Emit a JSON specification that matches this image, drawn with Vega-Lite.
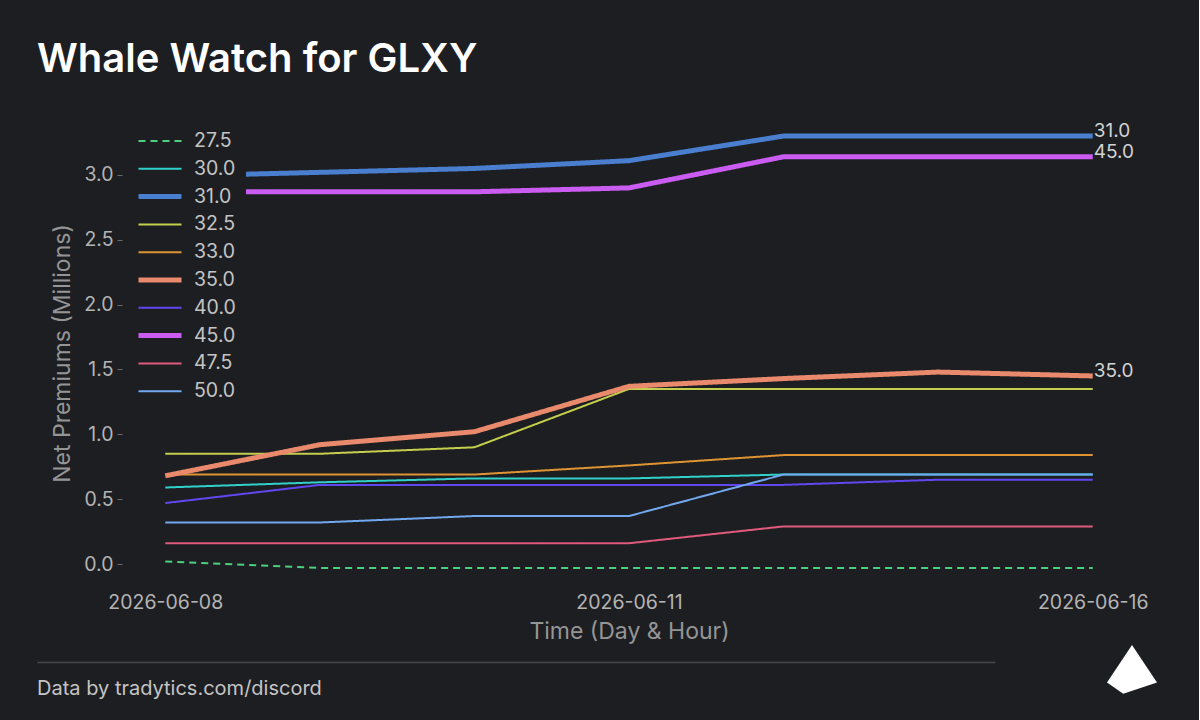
{
  "$schema": "https://vega.github.io/schema/vega-lite/v6.json",
  "background": "#1d1e22",
  "padding": {"left": 37, "top": 40, "right": 42, "bottom": 4},
  "title": {
    "text": "Whale Watch for GLXY",
    "anchor": "start",
    "font": "Inter",
    "fontSize": 40,
    "fontWeight": 600,
    "color": "#ffffff",
    "offset": 38
  },
  "config": {
    "view": {"stroke": null},
    "font": "Inter",
    "text": {"font": "Inter"}
  },
  "spacing": 0,
  "vconcat": [
    {
      "width": 1014,
      "height": 470,
      "data": {
        "values": [
          {"t": "2026-06-08", "strike": "27.5", "v": 0.02},
          {"t": "2026-06-09", "strike": "27.5", "v": -0.03},
          {"t": "2026-06-10", "strike": "27.5", "v": -0.03},
          {"t": "2026-06-11", "strike": "27.5", "v": -0.03},
          {"t": "2026-06-12", "strike": "27.5", "v": -0.03},
          {"t": "2026-06-15", "strike": "27.5", "v": -0.03},
          {"t": "2026-06-16", "strike": "27.5", "v": -0.03},
          {"t": "2026-06-08", "strike": "30.0", "v": 0.59},
          {"t": "2026-06-09", "strike": "30.0", "v": 0.63},
          {"t": "2026-06-10", "strike": "30.0", "v": 0.66},
          {"t": "2026-06-11", "strike": "30.0", "v": 0.66},
          {"t": "2026-06-12", "strike": "30.0", "v": 0.69},
          {"t": "2026-06-15", "strike": "30.0", "v": 0.69},
          {"t": "2026-06-16", "strike": "30.0", "v": 0.69},
          {"t": "2026-06-08", "strike": "31.0", "v": 2.99},
          {"t": "2026-06-09", "strike": "31.0", "v": 3.02},
          {"t": "2026-06-10", "strike": "31.0", "v": 3.05},
          {"t": "2026-06-11", "strike": "31.0", "v": 3.11},
          {"t": "2026-06-12", "strike": "31.0", "v": 3.3},
          {"t": "2026-06-15", "strike": "31.0", "v": 3.3},
          {"t": "2026-06-16", "strike": "31.0", "v": 3.3},
          {"t": "2026-06-08", "strike": "32.5", "v": 0.85},
          {"t": "2026-06-09", "strike": "32.5", "v": 0.85},
          {"t": "2026-06-10", "strike": "32.5", "v": 0.9},
          {"t": "2026-06-11", "strike": "32.5", "v": 1.35},
          {"t": "2026-06-12", "strike": "32.5", "v": 1.35},
          {"t": "2026-06-15", "strike": "32.5", "v": 1.35},
          {"t": "2026-06-16", "strike": "32.5", "v": 1.35},
          {"t": "2026-06-08", "strike": "33.0", "v": 0.69},
          {"t": "2026-06-09", "strike": "33.0", "v": 0.69},
          {"t": "2026-06-10", "strike": "33.0", "v": 0.69},
          {"t": "2026-06-11", "strike": "33.0", "v": 0.76},
          {"t": "2026-06-12", "strike": "33.0", "v": 0.84},
          {"t": "2026-06-15", "strike": "33.0", "v": 0.84},
          {"t": "2026-06-16", "strike": "33.0", "v": 0.84},
          {"t": "2026-06-08", "strike": "35.0", "v": 0.68},
          {"t": "2026-06-09", "strike": "35.0", "v": 0.92},
          {"t": "2026-06-10", "strike": "35.0", "v": 1.02},
          {"t": "2026-06-11", "strike": "35.0", "v": 1.37},
          {"t": "2026-06-12", "strike": "35.0", "v": 1.43},
          {"t": "2026-06-15", "strike": "35.0", "v": 1.48},
          {"t": "2026-06-16", "strike": "35.0", "v": 1.45},
          {"t": "2026-06-08", "strike": "40.0", "v": 0.47},
          {"t": "2026-06-09", "strike": "40.0", "v": 0.61},
          {"t": "2026-06-10", "strike": "40.0", "v": 0.61},
          {"t": "2026-06-11", "strike": "40.0", "v": 0.61},
          {"t": "2026-06-12", "strike": "40.0", "v": 0.61},
          {"t": "2026-06-15", "strike": "40.0", "v": 0.65},
          {"t": "2026-06-16", "strike": "40.0", "v": 0.65},
          {"t": "2026-06-08", "strike": "45.0", "v": 2.87},
          {"t": "2026-06-09", "strike": "45.0", "v": 2.87},
          {"t": "2026-06-10", "strike": "45.0", "v": 2.87},
          {"t": "2026-06-11", "strike": "45.0", "v": 2.9},
          {"t": "2026-06-12", "strike": "45.0", "v": 3.14},
          {"t": "2026-06-15", "strike": "45.0", "v": 3.14},
          {"t": "2026-06-16", "strike": "45.0", "v": 3.14},
          {"t": "2026-06-08", "strike": "47.5", "v": 0.16},
          {"t": "2026-06-09", "strike": "47.5", "v": 0.16},
          {"t": "2026-06-10", "strike": "47.5", "v": 0.16},
          {"t": "2026-06-11", "strike": "47.5", "v": 0.16},
          {"t": "2026-06-12", "strike": "47.5", "v": 0.29},
          {"t": "2026-06-15", "strike": "47.5", "v": 0.29},
          {"t": "2026-06-16", "strike": "47.5", "v": 0.29},
          {"t": "2026-06-08", "strike": "50.0", "v": 0.32},
          {"t": "2026-06-09", "strike": "50.0", "v": 0.32},
          {"t": "2026-06-10", "strike": "50.0", "v": 0.37},
          {"t": "2026-06-11", "strike": "50.0", "v": 0.37},
          {"t": "2026-06-12", "strike": "50.0", "v": 0.69},
          {"t": "2026-06-15", "strike": "50.0", "v": 0.69},
          {"t": "2026-06-16", "strike": "50.0", "v": 0.69}
        ]
      },
      "encoding": {
        "x": {
          "field": "t",
          "type": "ordinal",
          "scale": {"type": "point", "padding": 0.28},
          "axis": {
            "labelAngle": 0,
            "labelExpr": "indexof(['2026-06-08','2026-06-11','2026-06-16'], datum.value) >= 0 ? datum.value : ''",
            "labelFont": "Inter",
            "labelFontSize": 19.5,
            "labelColor": "#b4b4b4",
            "labelPadding": 5,
            "ticks": false,
            "tickSize": 0,
            "domain": false,
            "grid": false,
            "title": "Time (Day & Hour)",
            "titleFont": "Inter",
            "titleFontSize": 23,
            "titleFontWeight": "normal",
            "titleColor": "#959595",
            "titlePadding": 9
          }
        },
        "y": {
          "field": "v",
          "type": "quantitative",
          "scale": {"domain": [-0.185, 3.439], "nice": false, "zero": false},
          "axis": {
            "values": [0, 0.5, 1, 1.5, 2, 2.5, 3],
            "format": ".1f",
            "labelFont": "Inter",
            "labelFontSize": 19.5,
            "labelColor": "#b4b4b4",
            "labelPadding": 4,
            "tickColor": "#6a6a6a",
            "tickSize": 5,
            "domain": false,
            "grid": false,
            "title": "Net Premiums (Millions)",
            "titleFont": "Inter",
            "titleFontSize": 23,
            "titleFontWeight": "normal",
            "titleColor": "#959595",
            "titlePadding": 9
          }
        }
      },
      "layer": [
        {
          "mark": {"type": "line", "strokeCap": "butt"},
          "encoding": {
            "color": {
              "field": "strike",
              "type": "ordinal",
              "scale": {
                "domain": ["27.5", "30.0", "31.0", "32.5", "33.0", "35.0", "40.0", "45.0", "47.5", "50.0"],
                "range": ["#4cd080", "#2fd1c8", "#4a7fd0", "#c5cf4e", "#df9434", "#ea8a6c", "#6048f0", "#cb5cf2", "#e05a7c", "#72a8f0"]
              },
              "legend": {
                "title": null,
                "orient": "none",
                "legendX": 4,
                "legendY": 0,
                "padding": 10,
                "fillColor": "#1d1e22",
                "symbolType": "stroke",
                "symbolSize": 1849,
                "clipHeight": 26,
                "labelFont": "Inter",
                "labelFontSize": 19.5,
                "labelColor": "#c4c4c4",
                "labelOffset": 10,
                "rowPadding": 1.8
              }
            },
            "strokeDash": {
              "field": "strike",
              "type": "ordinal",
              "scale": {
                "domain": ["27.5", "30.0", "31.0", "32.5", "33.0", "35.0", "40.0", "45.0", "47.5", "50.0"],
                "range": [[7, 5], [1, 0], [1, 0], [1, 0], [1, 0], [1, 0], [1, 0], [1, 0], [1, 0], [1, 0]]
              },
              "legend": {
                "title": null,
                "orient": "none",
                "legendX": 4,
                "legendY": 0,
                "padding": 10,
                "fillColor": "#1d1e22",
                "symbolType": "stroke",
                "symbolSize": 1849,
                "clipHeight": 26,
                "labelFont": "Inter",
                "labelFontSize": 19.5,
                "labelColor": "#c4c4c4",
                "labelOffset": 10,
                "rowPadding": 1.8
              }
            },
            "strokeWidth": {
              "field": "strike",
              "type": "ordinal",
              "scale": {
                "type": "ordinal",
                "domain": ["27.5", "30.0", "31.0", "32.5", "33.0", "35.0", "40.0", "45.0", "47.5", "50.0"],
                "range": [2, 2, 5, 2, 2, 5, 2, 5, 2, 2]
              },
              "legend": {
                "title": null,
                "orient": "none",
                "legendX": 4,
                "legendY": 0,
                "padding": 10,
                "fillColor": "#1d1e22",
                "symbolType": "stroke",
                "symbolSize": 1849,
                "clipHeight": 26,
                "labelFont": "Inter",
                "labelFontSize": 19.5,
                "labelColor": "#c4c4c4",
                "labelOffset": 10,
                "rowPadding": 1.8
              }
            }
          }
        },
        {
          "transform": [
            {"filter": "datum.t == '2026-06-16' && (datum.strike == '31.0' || datum.strike == '45.0' || datum.strike == '35.0')"}
          ],
          "mark": {"type": "text", "align": "left", "baseline": "middle", "dx": 1, "dy": -5, "font": "Inter", "fontSize": 19, "color": "#d2d2d2"},
          "encoding": {"text": {"field": "strike"}}
        }
      ]
    },
    {
      "width": 1014,
      "height": 54,
      "data": {"values": [{"note": "Data by tradytics.com/discord", "pos": 0, "h": 0.5}]},
      "encoding": {
        "x": {
          "field": "pos",
          "type": "quantitative",
          "scale": {"domain": [0, 1], "range": [-85, 873]},
          "axis": {"orient": "top", "domain": true, "domainColor": "#4a4a4e", "domainWidth": 1.5, "ticks": false, "labels": false, "grid": false, "title": null}
        },
        "y": {
          "field": "h",
          "type": "quantitative",
          "scale": {"domain": [0, 1]},
          "axis": null
        }
      },
      "layer": [
        {
          "mark": {"type": "text", "align": "left", "baseline": "middle", "font": "Inter", "fontSize": 20, "color": "#c4c4c4"},
          "encoding": {"text": {"field": "note"}}
        },
        {
          "mark": {"type": "point", "shape": "M0,-1L1,0.5L-0.35,0.95L-1,0.5Z", "filled": true, "color": "#ffffff", "opacity": 1, "size": 2500},
          "encoding": {
            "x": {"datum": 1.143, "type": "quantitative"},
            "y": {"datum": 0.852, "type": "quantitative"}
          }
        }
      ]
    }
  ]
}
